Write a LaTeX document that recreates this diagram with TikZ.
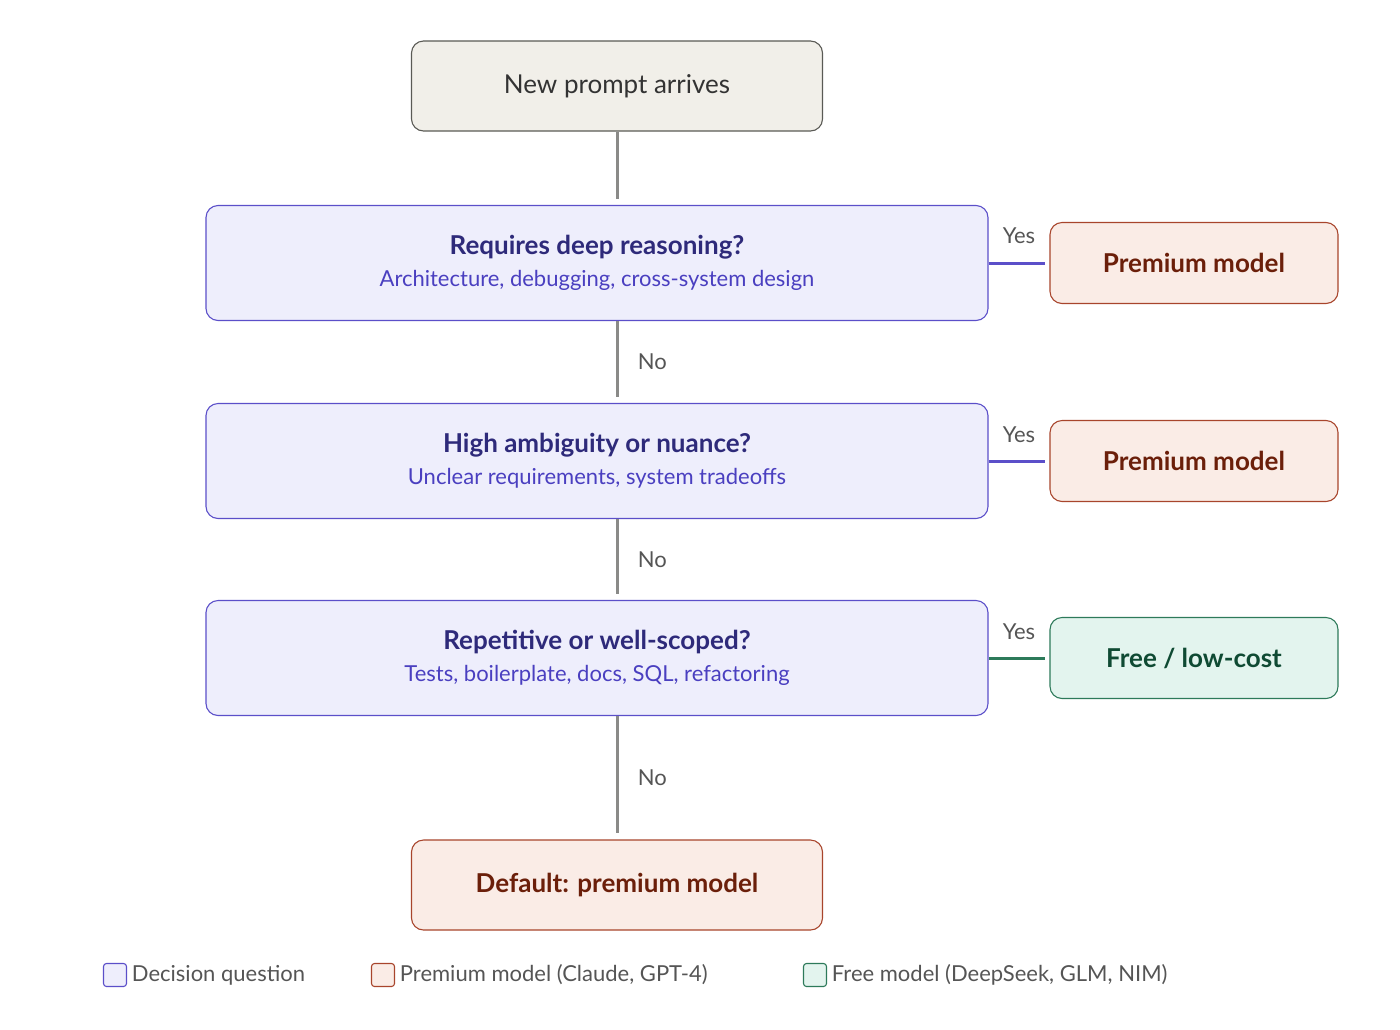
\documentclass[tikz,border=0pt]{standalone}
\usepackage{fontspec}
\setmainfont{Lato}
\usetikzlibrary{positioning}
\definecolor{startfill}{HTML}{F1EFE9}
\definecolor{startdraw}{HTML}{5A5A55}
\definecolor{qfill}{HTML}{EEEEFC}
\definecolor{qdraw}{HTML}{5B4FC9}
\definecolor{qtitle}{HTML}{2E2A7A}
\definecolor{qsub}{HTML}{4A3FC0}
\definecolor{pfill}{HTML}{FAECE6}
\definecolor{pdraw}{HTML}{A8452C}
\definecolor{ptext}{HTML}{6B1F0A}
\definecolor{ffill}{HTML}{E3F4EE}
\definecolor{fdraw}{HTML}{2D7A5A}
\definecolor{ftext}{HTML}{0F4A33}
\definecolor{linegray}{HTML}{8A8A88}
\definecolor{labelgray}{HTML}{555555}

\begin{document}
\begin{tikzpicture}[x=1pt,y=-1pt,line width=1.1pt,
    start box/.style={draw=startdraw,fill=startfill,rounded corners=12pt,minimum width=411pt,minimum height=90pt,
      text=black!80,font=\fontsize{26}{30}\selectfont},
    q box/.style={draw=qdraw,fill=qfill,rounded corners=12pt,minimum width=782pt,minimum height=115pt,align=center},
    prem box/.style={draw=pdraw,fill=pfill,rounded corners=12pt,minimum width=288pt,minimum height=81pt,
      text=ptext,font=\fontsize{26}{30}\selectfont\bfseries},
    free box/.style={draw=fdraw,fill=ffill,rounded corners=12pt,minimum width=288pt,minimum height=81pt,
      text=ftext,font=\fontsize{26}{30}\selectfont\bfseries},
    flow/.style={draw=linegray,line width=3pt},
    lbl/.style={text=labelgray,font=\fontsize{22}{26}\selectfont},
    key/.style={rounded corners=3pt,minimum size=23pt,inner sep=0pt}]

  \useasboundingbox (0,0) rectangle (1400,1029);

  \node[start box] (start) at (617,86) {New prompt arrives};
  \node[q box] (q1) at (597,263) {{\fontsize{26}{30}\selectfont\bfseries\color{qtitle}Requires deep reasoning?}\\[10pt]
    {\fontsize{22}{26}\selectfont\color{qsub}Architecture, debugging, cross-system design}};
  \node[q box] (q2) at (597,461) {{\fontsize{26}{30}\selectfont\bfseries\color{qtitle}High ambiguity or nuance?}\\[10pt]
    {\fontsize{22}{26}\selectfont\color{qsub}Unclear requirements, system tradeoffs}};
  \node[q box] (q3) at (597,658) {{\fontsize{26}{30}\selectfont\bfseries\color{qtitle}Repetitive or well-scoped?}\\[10pt]
    {\fontsize{22}{26}\selectfont\color{qsub}Tests, boilerplate, docs, SQL, refactoring}};
  \node[prem box] (p1) at (1194,263) {Premium model};
  \node[prem box] (p2) at (1194,461) {Premium model};
  \node[free box] (f3) at (1194,658) {Free / low-cost};
  \node[prem box,minimum width=411pt,minimum height=90pt] (dflt) at (617,885) {Default: premium model};

  % vertical flow
  \draw[flow,shorten >=6pt] (start.south) -- (start.south |- q1.north);
  \draw[flow,shorten >=6pt] (start.south |- q1.south) -- node[lbl,right=16pt] {No} (start.south |- q2.north);
  \draw[flow,shorten >=6pt] (start.south |- q2.south) -- node[lbl,right=16pt] {No} (start.south |- q3.north);
  \draw[flow,shorten >=6pt] (start.south |- q3.south) -- node[lbl,right=16pt] {No} (dflt.north);

  % yes branches
  \draw[draw=qdraw,line width=3pt,shorten >=4pt] (q1.east) -- node[lbl,above=14pt] {Yes} (p1.west);
  \draw[draw=qdraw,line width=3pt,shorten >=4pt] (q2.east) -- node[lbl,above=14pt] {Yes} (p2.west);
  \draw[draw=fdraw,line width=3pt,shorten >=4pt] (q3.east) -- node[lbl,above=14pt] {Yes} (f3.west);

  % legend
  \node[key,draw=qdraw,fill=qfill] (k1) at (115,975) {};
  \node[lbl,right=1pt of k1] (t1) {Decision question};
  \node[key,draw=pdraw,fill=pfill] (k2) at (383,975) {};
  \node[lbl,right=1pt of k2] (t2) {Premium model (Claude, GPT-4)};
  \node[key,draw=fdraw,fill=ffill] (k3) at (815,975) {};
  \node[lbl,right=1pt of k3] (t3) {Free model (DeepSeek, GLM, NIM)};
\end{tikzpicture}
\end{document}
